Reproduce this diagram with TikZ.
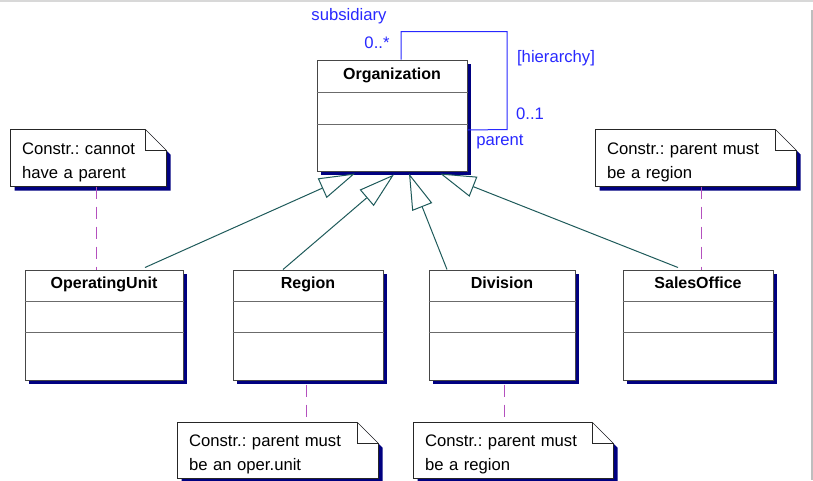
\documentclass[tikz,border=0pt]{standalone}
\usepackage{fontspec}
\setmainfont{Liberation Sans}
\usetikzlibrary{arrows.meta,calc,shadows,backgrounds}
\frenchspacing

\definecolor{shadowblue}{RGB}{0,0,128}
\definecolor{linkteal}{RGB}{30,90,90}
\definecolor{roleblue}{RGB}{40,40,255}
\definecolor{anchorpurple}{RGB}{180,80,190}
\definecolor{boxgray}{RGB}{70,70,70}
\definecolor{framegray}{RGB}{190,190,190}

\tikzset{every picture/.style={line width=0.75pt}}
\tikzset{
  umlshadow/.style={general shadow={fill=shadowblue, shadow xshift=3pt, shadow yshift=-3pt}},
  classbox/.style={draw=boxgray, fill=white, minimum height=82.5pt, inner sep=0pt, umlshadow},
  classname/.style={anchor=base, font=\fontsize{12pt}{14pt}\selectfont\bfseries},
  compline/.style={draw=boxgray!80},
  notebox/.style={inner xsep=8.25pt, inner ysep=0pt, minimum height=42pt, align=left,
    font=\fontsize{12.5pt}{18pt}\selectfont, execute at begin node={\rule{0pt}{15pt}}},
  noteline/.style={draw=black!85, fill=white, umlshadow},
  rolelabel/.style={text=roleblue, font=\fontsize{12.5pt}{14pt}\selectfont},
  generalization/.style={draw=linkteal, -{Triangle[open, length=27pt, width=16pt, fill=white]}},
  association/.style={draw=roleblue},
  anchorline/.style={draw=anchorpurple, dash pattern=on 9pt off 6pt}
}

\begin{document}
\begin{tikzpicture}[x=0.75pt,y=0.75pt,yscale=-1,xscale=1]
\useasboundingbox (0,0) rectangle (813,480);

%Frame
\draw[framegray!60, line width=1.5pt] (0,0.5) -- (813,0.5);
\draw[framegray, line width=1.5pt] (812,10) -- (812,480);

%Class: Organization
\node[classbox, minimum width=112.5pt, minimum height=83.25pt] (org) at (392,115.5) {};
\node[classname] at ($(org.north)+(0,19.5)$) {Organization};
\draw[compline] ($(org.north west)+(0,33)$) -- ($(org.north east)+(0,33)$);
\draw[compline] ($(org.north west)+(0,65)$) -- ($(org.north east)+(0,65)$);

%Class: OperatingUnit
\node[classbox, minimum width=118.5pt] (ou) at (104,325) {};
\node[classname] at ($(ou.north)+(0,18.5)$) {OperatingUnit};
\draw[compline] ($(ou.north west)+(0,32)$) -- ($(ou.north east)+(0,32)$);
\draw[compline] ($(ou.north west)+(0,63)$) -- ($(ou.north east)+(0,63)$);

%Class: Region
\node[classbox, minimum width=112.5pt] (reg) at (308,325) {};
\node[classname] at ($(reg.north)+(0,18.5)$) {Region};
\draw[compline] ($(reg.north west)+(0,32)$) -- ($(reg.north east)+(0,32)$);
\draw[compline] ($(reg.north west)+(0,63)$) -- ($(reg.north east)+(0,63)$);

%Class: Division
\node[classbox, minimum width=109.5pt] (div) at (502,325) {};
\node[classname] at ($(div.north)+(0,18.5)$) {Division};
\draw[compline] ($(div.north west)+(0,32)$) -- ($(div.north east)+(0,32)$);
\draw[compline] ($(div.north west)+(0,63)$) -- ($(div.north east)+(0,63)$);

%Class: SalesOffice
\node[classbox, minimum width=112.5pt] (so) at (698,325) {};
\node[classname] at ($(so.north)+(0,18.5)$) {SalesOffice};
\draw[compline] ($(so.north west)+(0,32)$) -- ($(so.north east)+(0,32)$);
\draw[compline] ($(so.north west)+(0,63)$) -- ($(so.north east)+(0,63)$);

%Self association [hierarchy]
\draw[association] ($(org.north)+(9,0)$) -- ++(0,-28) -- ++(106,0) -- ++(0,98) -- ($(org.east)+(0,14.5)$);
\node[rolelabel] at (349,16) {subsidiary};
\node[rolelabel] at (377,43) {0..*};
\node[rolelabel] at (556,58) {[hierarchy]};
\node[rolelabel] at (530,114) {0..1};
\node[rolelabel] at (500,142) {parent};

%Generalizations
\draw[generalization] (ou.north) ++(41,-2) -- ($(org.south)+(-37,2)$);
\draw[generalization] ($(reg.north)+(-25,0)$) -- ($(org.south)+(2,3)$);
\draw[generalization] ($(div.north)+(-55,0)$) -- ($(org.south)+(17,2)$);
\draw[generalization] ($(so.north)+(-20,-2)$) -- ($(org.south)+(48,2)$);

%Notes
\node[notebox, text width=99.75pt] (n1) at (88.5,158) {Constr.: cannot\\have a parent};
\node[notebox, text width=133.5pt] (n2) at (696,158) {Constr.: parent must\\be a region};
\node[notebox, text width=133.5pt, minimum height=41.25pt] (n3) at (278,450.5) {Constr.: parent must\\be an oper.unit};
\node[notebox, text width=132.75pt, minimum height=41.25pt] (n4) at (513.5,450.5) {Constr.: parent must\\be a region};

\begin{scope}[on background layer]
\foreach \n in {n1,n2,n3,n4} {
  \draw[noteline] (\n.south west) -- (\n.north west) -- ($(\n.north east)+(-21,0)$) -- ($(\n.north east)+(0,21)$) -- (\n.south east) -- cycle;
  \draw[draw=black!85] ($(\n.north east)+(-21,0)$) |- ($(\n.north east)+(0,21)$);
}
\end{scope}

%Anchor lines
\coordinate (n1foot) at ($(n1.south)+(7.5,0)$);
\coordinate (n2foot) at ($(n2.south)+(5,0)$);
\coordinate (n3head) at ($(n3.north)+(28,0)$);
\coordinate (n4head) at ($(n4.north)+(-9.5,0)$);
\draw[anchorline] (n1foot) -- (n1foot |- ou.north);
\draw[anchorline] (n2foot) -- (n2foot |- so.north);
\draw[anchorline] (n3head |- reg.south) ++(0,4) -- (n3head);
\draw[anchorline] (n4head |- div.south) ++(0,4) -- (n4head);

\end{tikzpicture}
\end{document}
